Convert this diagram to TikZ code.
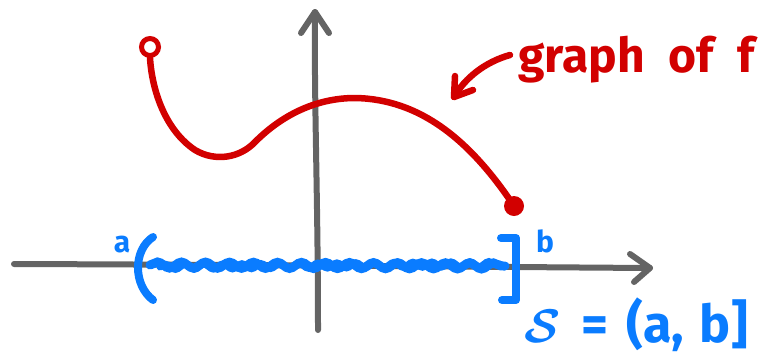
\documentclass[tikz,border=0pt]{standalone}
\usepackage{bm}
\usepackage{fontspec}
\setmainfont{Fira Sans}
\usetikzlibrary{decorations.pathmorphing}
\definecolor{penred}{RGB}{210,0,0}
\definecolor{penblue}{RGB}{10,124,255}
\definecolor{pengray}{RGB}{100,100,100}
\tikzset{
  axisline/.style={draw=pengray,line width=6pt,line cap=round,line join=round},
  redpen/.style={draw=penred,line width=6.5pt,line cap=round,line join=round},
  bluepen/.style={draw=penblue,line width=8pt,line cap=round,line join=round},
  redtext/.style={text=penred,font=\bfseries\fontsize{48}{50}\selectfont,inner sep=0pt},
  bluetext/.style={text=penblue,font=\bfseries\fontsize{52}{54}\selectfont,inner sep=0pt},
  smallblue/.style={text=penblue,font=\bfseries\fontsize{30}{32}\selectfont,inner sep=0pt}
}
\begin{document}
\begin{tikzpicture}[x=1pt,y=-1pt]
\useasboundingbox (0,0) rectangle (760,357);
% axes
\coordinate (xstart) at (14,264);
\coordinate (xtip) at (650,268);
\coordinate (ystart) at (318,330);
\coordinate (ytip) at (315,12);
\draw[axisline] (xstart) .. controls (300,265) and (500,267) .. (xtip);
\draw[axisline] (630,254) -- (xtip) -- (634,282);
\draw[axisline] (ystart) .. controls (318,200) and (314,100) .. (ytip);
\draw[axisline] (301,33) -- (ytip) -- (329,33);
% graph of f
\node[circle,draw=penred,line width=5pt,minimum size=17pt,inner sep=0pt,fill=white] (open) at (150,47) {};
\node[circle,fill=penred,minimum size=20pt,inner sep=0pt] (closed) at (514,206) {};
\draw[redpen] (open.south) .. controls (152,90) and (165,130) .. (195,150)
  .. controls (215,162) and (240,158) .. (255,142)
  .. controls (285,112) and (320,98) .. (355,98)
  .. controls (420,99) and (470,140) .. (closed.center);
\node[redtext,anchor=base west] (lbl) at (518,72) {graph\hspace{0.5em}of\hspace{0.5em}f};
\coordinate (atip) at (454,97);
\draw[redpen] (510,55) .. controls (485,62) and (465,78) .. (atip);
\draw[redpen] (455,76) -- (atip) -- (473,90);
% interval
\draw[penblue,line width=9pt,line cap=round,decorate,decoration={snake,amplitude=3pt,segment length=24pt}] (150,265) -- (505,266);
\draw[penblue,line width=7pt,line cap=round,decorate,decoration={snake,amplitude=2.5pt,segment length=19pt}] (160,267) -- (500,264);
\draw[bluepen] (153,237) .. controls (133,250) and (133,285) .. (153,300);
\draw[bluepen] (501,238) -- (516,238) -- (516,300) -- (502,300);
\node[smallblue,anchor=base] (la) at (122,252) {a};
\node[smallblue,anchor=base] (lb) at (545,252) {b};
\node[bluetext,anchor=base west] (lS) at (524,342) {\scalebox{1.9}{$\bm{\mathcal{S}}$}\hspace{0.4em}=\hspace{0.35em}(a,\hspace{0.3em}b]};
\end{tikzpicture}
\end{document}
